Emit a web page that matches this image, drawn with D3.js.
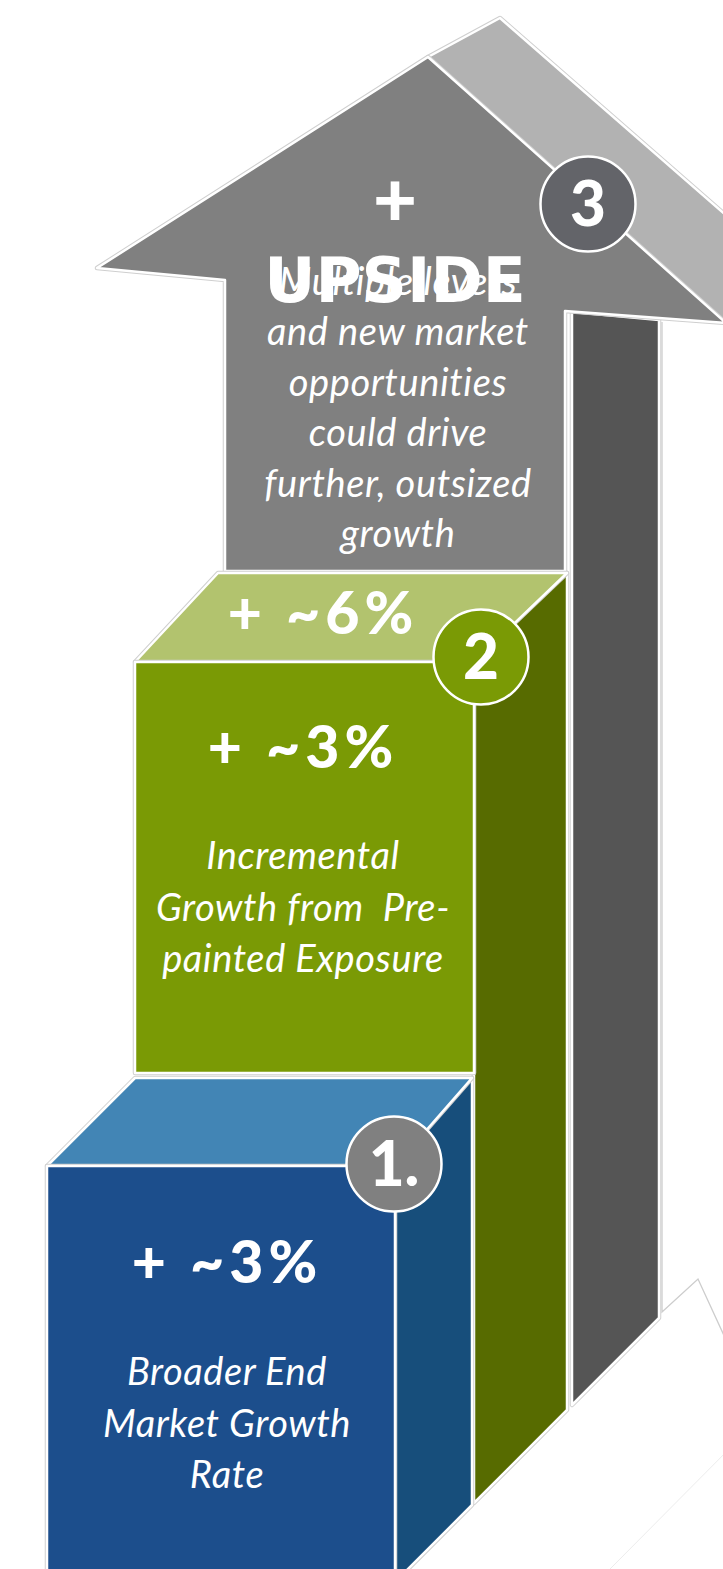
<!DOCTYPE html>
<html>
<head>
<meta charset="utf-8">
<script src="https://cdn.jsdelivr.net/npm/d3@7"></script>
<style>
  body { margin: 0; background: #fff; }
  svg { display: block; }
</style>
</head>
<body>
<div id="chart"></div>
<script>
// steps of the growth build-up, bottom to top
const stepIds = ["1.", "2", "3"];
const stepGains = ["+ ~3%", "+ ~3%", "+"];
const stepHeadlines = ["", "", "UPSIDE"];
const stepNotes = [
    ["Broader End", "Market Growth", "Rate"],
    ["Incremental", "Growth from  Pre-", "painted Exposure"],
    ["Multiple levers", "and new market", "opportunities", "could drive", "further, outsized", "growth"]
];
const cumulativeGain = "+ ~6%";
const stepColors = [
    { front: "#1c4e8c", top: "#4285b5", side: "#174e7b", badge: "#808080" },
    { front: "#7a9a05", top: "#b2c36e", side: "#576b00", badge: "#7a9a05" },
    { front: "#808080", top: "#b2b2b2", side: "#555555", badge: "#636469" }
];

const W = 723, H = 1569;
const FONT = "Lato, 'Open Sans', sans-serif";

// cut line at the bottom of the side faces (y = CUT - x)
const CUT = 1977;

const svg = d3.select("#chart").append("svg")
    .attr("width", W)
    .attr("height", H);

// geometry of each block (front face, depth offsets)
const geo = [
    { x0: 47,  x1: 395, top: 1166, bottom: 1600, backL: [135, 1078], backR: [472, 1078] },
    { x0: 135, x1: 474, top: 662,  bottom: 1073, backL: [218, 573],  backR: [567, 573] },
    { x0: 225, x1: 565, top: 280,  bottom: 571 }
];

const line = d3.line();
const closed = pts => line(pts) + "Z";

function face(g, pts, fill) {
    g.append("path").attr("d", closed(pts))
        .attr("fill", "none").attr("stroke", "#cfcfcf").attr("stroke-width", 4.5)
        .attr("stroke-linejoin", "round");
    g.append("path").attr("d", closed(pts))
        .attr("fill", fill).attr("stroke", "#fff").attr("stroke-width", 2.5)
        .attr("stroke-linejoin", "round");
}

// faint white arrow outline behind everything
const bg = svg.append("g").attr("id", "ghost");
bg.append("path")
    .attr("d", line([[662, 322], [662, 1312], [698, 1279], [750, 1392]]))
    .attr("fill", "none").attr("stroke", "#cdcdcd").attr("stroke-width", 1.3);
bg.append("path")
    .attr("d", line([[610, 1569], [750, 1428]]))
    .attr("fill", "none").attr("stroke", "#ececec").attr("stroke-width", 1);

// step 3: the arrow
const arrow = svg.append("g").attr("id", "arrow");
face(arrow, [[572, 312], [659, 320], [659, CUT - 659], [572, CUT - 572]], stepColors[2].side);
face(arrow, [[428, 57], [500, 18], [830, 306], [726, 323]], stepColors[2].top);
face(arrow, [[97, 268], [428, 57], [726, 323], [565, 311], [565, geo[2].bottom],
             [geo[2].x0, geo[2].bottom], [geo[2].x0, geo[2].top]], stepColors[2].front);

// steps 2 and 1: boxes, drawn back to front
[1, 0].forEach(i => {
    const d = geo[i], c = stepColors[i];
    const g = svg.append("g").attr("id", "step" + i);
    const sx = d.backR[0];
    face(g, [[d.x1, d.top], d.backR, [sx, CUT - sx], [CUT - 1600, 1600], [d.x1, 1600]]
        .map(p => p[1] > CUT - p[0] ? [p[0], CUT - p[0]] : p)
        .filter(p => p[0] >= d.x1), c.side);
    face(g, [[d.x0, d.top], d.backL, d.backR, [d.x1, d.top]], c.top);
    face(g, [[d.x0, d.top], [d.x1, d.top], [d.x1, d.bottom], [d.x0, d.bottom]], c.front);
});

// numbered badges
const badges = [[394, 1164], [481, 657], [588, 204]];
const badgeG = svg.append("g").attr("id", "badges");
badgeG.selectAll("circle")
    .data(stepIds)
    .join("circle")
    .attr("cx", (d, i) => badges[i][0])
    .attr("cy", (d, i) => badges[i][1])
    .attr("r", 47.5)
    .attr("fill", (d, i) => stepColors[i].badge)
    .attr("stroke", "#fff")
    .attr("stroke-width", 2.5);
badgeG.selectAll("text")
    .data(stepIds)
    .join("text")
    .attr("x", (d, i) => badges[i][0])
    .attr("y", (d, i) => badges[i][1] + 22)
    .attr("text-anchor", "middle")
    .attr("font-family", FONT)
    .attr("font-weight", 900)
    .attr("font-size", 62)
    .attr("fill", "#fff")
    .text(d => d);

// labels
const gainPos = [[227, 1283], [303, 768], [395, 226]];
const gainSize = [59, 59, 76];
const notePos = [[227, 1385], [303, 869], [398, 294.5]];
const noteStep = [51.5, 51.5, 50.5];

const labels = svg.append("g").attr("id", "labels")
    .attr("fill", "#fff").attr("font-family", FONT).attr("text-anchor", "middle");

labels.selectAll("text.gain")
    .data(stepGains)
    .join("text")
    .attr("class", "gain")
    .attr("x", (d, i) => gainPos[i][0])
    .attr("y", (d, i) => gainPos[i][1])
    .attr("font-weight", 900)
    .attr("font-size", (d, i) => gainSize[i])
    .attr("letter-spacing", (d, i) => i < 2 ? 5 : 0)
    .attr("xml:space", "preserve")
    .text(d => d);

stepNotes.forEach((lines, i) => {
    labels.append("text")
        .attr("font-style", "italic")
        .attr("font-size", 38)
        .attr("letter-spacing", 0.6)
        .selectAll("tspan")
        .data(lines)
        .join("tspan")
        .attr("x", notePos[i][0])
        .attr("y", (d, j) => notePos[i][1] + j * noteStep[i])
        .attr("xml:space", "preserve")
        .text(d => d);
});

labels.append("text")
    .attr("x", 395).attr("y", 302)
    .attr("font-family", "'DejaVu Sans', sans-serif")
    .attr("font-weight", "bold")
    .attr("font-size", 63)
    .text(stepHeadlines[2]);

labels.append("text")
    .attr("x", 323).attr("y", 634)
    .attr("font-weight", 900)
    .attr("font-size", 59)
    .attr("letter-spacing", 5)
    .attr("xml:space", "preserve")
    .text(cumulativeGain);
</script>
</body>
</html>
